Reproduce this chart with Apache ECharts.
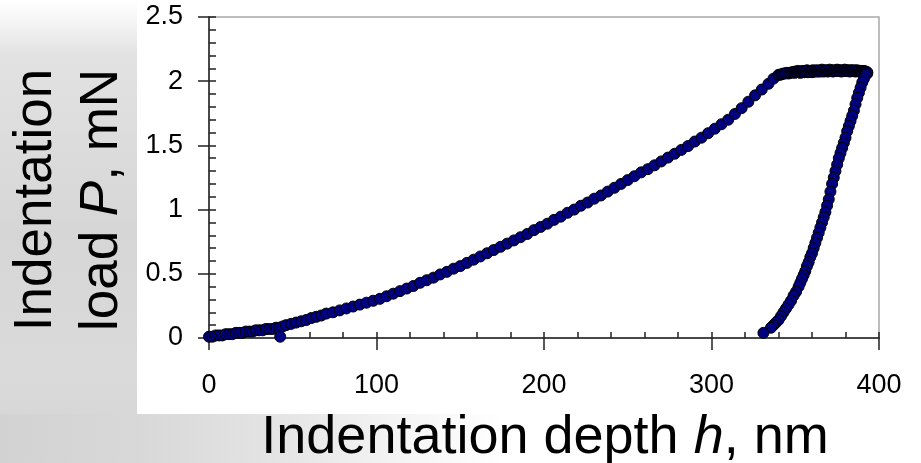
<!DOCTYPE html>
<html>
<head>
<meta charset="utf-8">
<title>Indentation load-depth curve</title>
<script src="https://cdn.jsdelivr.net/npm/echarts@6.0.0/dist/echarts.min.js"></script>
<style>
  html, body { margin: 0; padding: 0; background: #fff; }
  #chart { width: 921px; height: 463px; }
</style>
</head>
<body>
<div id="chart"></div>
<script>
// loading branch (nm, mN)
var loadDepth = [0, 2, 4, 6, 8, 10, 12, 14, 16, 18, 20, 22, 24, 26, 28, 30, 32, 34, 36, 38, 40, 42, 44,
  46, 49, 52, 55, 58, 61, 64, 67, 70, 74, 78, 82, 86, 90, 94, 98, 102, 106, 110, 114, 118, 122, 126,
  130, 134, 138, 142, 146, 150, 154, 158, 162, 166, 170, 174, 178, 182, 186, 190, 194, 198, 202, 206,
  210, 214, 218, 222, 226, 230, 234, 238, 242, 246, 250, 254, 258, 262, 266, 270, 274, 278, 282, 286,
  290, 294, 298, 302, 306, 310, 314, 318, 322, 326, 330, 334, 337, 340];
var loadForce = [0.01, 0.01, 0.02, 0.02, 0.02, 0.03, 0.03, 0.03, 0.04, 0.04, 0.04, 0.05, 0.05, 0.05, 0.06, 0.06, 0.06, 0.07, 0.07, 0.07, 0.08, 0.08, 0.09,
  0.10, 0.11, 0.12, 0.13, 0.14, 0.155, 0.165, 0.175, 0.19, 0.20, 0.215, 0.23, 0.245, 0.26, 0.275, 0.29, 0.305, 0.325, 0.345, 0.365, 0.385, 0.405, 0.43,
  0.45, 0.47, 0.495, 0.515, 0.54, 0.56, 0.585, 0.61, 0.635, 0.66, 0.685, 0.71, 0.735, 0.76, 0.785, 0.81, 0.84, 0.865, 0.89, 0.92,
  0.945, 0.975, 1.00, 1.03, 1.055, 1.085, 1.11, 1.14, 1.17, 1.20, 1.23, 1.26, 1.29, 1.315, 1.345, 1.375, 1.405, 1.435, 1.465, 1.495,
  1.53, 1.56, 1.595, 1.63, 1.665, 1.70, 1.745, 1.79, 1.84, 1.89, 1.935, 1.98, 2.02, 2.05];

// hold at max load (dense, so the band reads almost black)
var holdDepth = [341, 342, 343, 344, 345, 346, 347, 348,
  349, 349.5, 350, 350.5, 351, 351.5, 352, 352.5, 353, 353.5, 354, 354.5, 355, 355.5, 356, 356.5, 357, 357.5,
  358, 358.5, 359, 359.5, 360, 360.5, 361, 361.5, 362, 362.5, 363, 363.5, 364, 364.5, 365, 365.5, 366, 366.5,
  367, 367.5, 368, 368.5, 369, 369.5, 370, 370.5, 371, 371.5, 372, 372.5, 373, 373.5, 374, 374.5, 375, 375.5,
  376, 376.5, 377, 377.5, 378, 378.5, 379, 379.5, 380, 380.5, 381, 381.5, 382, 382.5, 383, 383.5, 384, 384.5,
  385, 385.5, 386, 386.5, 387, 387.5, 388, 388.5, 389, 389.5, 390, 390.5, 391, 391.5, 392, 392.5, 393];
var holdForce = [2.05, 2.055, 2.06, 2.06, 2.065, 2.06, 2.065, 2.07,
  2.07, 2.065, 2.075, 2.07, 2.07, 2.08, 2.07, 2.075, 2.065, 2.075, 2.07, 2.08, 2.075, 2.07, 2.08, 2.075, 2.085, 2.07,
  2.075, 2.08, 2.075, 2.08, 2.07, 2.085, 2.075, 2.08, 2.075, 2.085, 2.08, 2.075, 2.08, 2.085, 2.075, 2.08, 2.09, 2.08,
  2.075, 2.085, 2.08, 2.08, 2.085, 2.075, 2.08, 2.09, 2.08, 2.085, 2.08, 2.075, 2.085, 2.08, 2.08, 2.085, 2.09, 2.08,
  2.085, 2.08, 2.085, 2.075, 2.08, 2.085, 2.08, 2.09, 2.08, 2.085, 2.08, 2.085, 2.08, 2.075, 2.085, 2.08, 2.085, 2.08,
  2.08, 2.085, 2.075, 2.08, 2.085, 2.08, 2.08, 2.075, 2.08, 2.08, 2.075, 2.08, 2.08, 2.075, 2.075, 2.07, 2.07];

// unloading branch
var unloadDepth = [393, 392, 391, 390, 389, 388, 387, 386, 385, 384, 383, 382, 381, 380, 379, 378, 377, 376, 375,
  374, 373, 372, 371, 370, 369, 368, 367, 366, 365, 364, 363, 362, 361, 360, 359, 358, 357, 356, 355, 354, 353,
  352, 350.5, 349, 347.5, 346, 344.5, 343, 341.5, 340, 338.5, 337, 335.5, 331];
var unloadForce = [2.06, 2.05, 2.02, 1.99, 1.95, 1.91, 1.87, 1.82, 1.77, 1.73, 1.69, 1.65, 1.61, 1.56, 1.52, 1.48, 1.44, 1.40, 1.35,
  1.30, 1.25, 1.20, 1.14, 1.08, 1.03, 0.98, 0.94, 0.90, 0.86, 0.82, 0.78, 0.74, 0.70, 0.66, 0.63, 0.59, 0.56, 0.52, 0.49, 0.46, 0.43,
  0.40, 0.36, 0.33, 0.29, 0.26, 0.23, 0.20, 0.17, 0.14, 0.12, 0.10, 0.08, 0.04];

// single stray point near the start
var strayDepth = [42.5];
var strayForce = [0.01];

var xTicks = [0, 400, 100];   // min, max, step
var yTicks = [0, 2.5, 0.5];

function pairs(xs, ys) {
  return xs.map(function (x, i) { return [x, ys[i]]; });
}

var chart = echarts.init(document.getElementById('chart'), null, { renderer: 'canvas' });

var tickFont = { fontSize: 27, fontFamily: 'Liberation Sans, Arial, sans-serif', color: '#000' };
var dotStyle = { color: '#000080', borderColor: '#000', borderWidth: 1, opacity: 1 };

function dots(name, xs, ys) {
  return {
    name: name,
    type: 'scatter',
    xAxisIndex: 0,
    yAxisIndex: 0,
    symbol: 'circle',
    symbolSize: 11,
    itemStyle: dotStyle,
    emphasis: { disabled: true },
    data: pairs(xs, ys)
  };
}

var option = {
  backgroundColor: '#fff',
  animation: false,
  grid: {
    left: 209, right: 42, top: 17, bottom: 125,
    show: true, borderColor: '#a8a8a8', borderWidth: 1.5,
    backgroundColor: 'transparent',
    outerBoundsMode: 'none'
  },
  graphic: [
    {  // grey backdrop on the left
      type: 'rect', z: 0, silent: true,
      shape: { x: 0, y: 0, width: 137, height: 463 },
      style: {
        fill: { type: 'linear', x: 0, y: 0, x2: 0, y2: 1, colorStops: [
          { offset: 0, color: '#ffffff' }, { offset: 0.05, color: '#f4f4f4' },
          { offset: 0.12, color: '#e2e2e2' }, { offset: 0.5, color: '#d6d6d6' },
          { offset: 0.8, color: '#dadada' }, { offset: 1, color: '#d4d4d4' }] }
      }
    },
    {  // grey backdrop under the plot
      type: 'rect', z: 0, silent: true,
      shape: { x: 0, y: 414, width: 921, height: 49 },
      style: {
        fill: { type: 'linear', x: 0, y: 0, x2: 1, y2: 0, colorStops: [
          { offset: 0, color: '#d2d2d2' }, { offset: 0.15, color: '#d8d8d8' },
          { offset: 0.3, color: '#e4e4e4' }, { offset: 0.45, color: '#f6f6f6' },
          { offset: 0.55, color: '#ffffff' }, { offset: 1, color: '#ffffff' }] }
      }
    },
    {
      type: 'text', z: 10, x: 36, y: 200, rotation: Math.PI / 2,
      style: {
        text: 'Indentation', fontSize: 53, fontFamily: 'Liberation Sans, Arial, sans-serif',
        fill: '#000', align: 'center', verticalAlign: 'middle'
      }
    },
    {
      type: 'text', z: 10, x: 102, y: 200, rotation: Math.PI / 2,
      style: {
        text: '{n|load }{i|P}{n|, mN}', fontSize: 53, fontFamily: 'Liberation Sans, Arial, sans-serif',
        fill: '#000', align: 'center', verticalAlign: 'middle',
        rich: {
          n: { fontSize: 53, fontFamily: 'Liberation Sans, Arial, sans-serif', fill: '#000' },
          i: { fontSize: 53, fontFamily: 'Liberation Sans, Arial, sans-serif', fill: '#000', fontStyle: 'italic' }
        }
      }
    },
    {
      type: 'text', z: 10, x: 545, y: 438,
      style: {
        text: '{n|Indentation depth }{i|h}{n|, nm}', fontSize: 54, fontFamily: 'Liberation Sans, Arial, sans-serif',
        fill: '#000', align: 'center', verticalAlign: 'middle',
        rich: {
          n: { fontSize: 54, fontFamily: 'Liberation Sans, Arial, sans-serif', fill: '#000' },
          i: { fontSize: 54, fontFamily: 'Liberation Sans, Arial, sans-serif', fill: '#000', fontStyle: 'italic' }
        }
      }
    }
  ],
  xAxis: [
    {
      type: 'value', position: 'bottom', min: xTicks[0], max: xTicks[1], interval: xTicks[2],
      axisLine: { show: true, onZero: false, lineStyle: { color: '#222', width: 1.5 } },
      axisTick: { show: true, inside: false, length: 12, lineStyle: { color: '#222', width: 1.5 } },
      axisLabel: Object.assign({ margin: 34 }, tickFont),
      splitLine: { show: false }
    },
    {
      type: 'value', position: 'bottom', min: xTicks[0], max: xTicks[1], interval: xTicks[2],
      axisLine: { show: false, onZero: false },
      axisTick: { show: true, inside: true, length: 6, lineStyle: { color: '#222', width: 1.5 } },
      minorTick: { show: true, splitNumber: 5, length: 6, lineStyle: { color: '#222', width: 1.5 } },
      axisLabel: { show: false },
      splitLine: { show: false }
    }
  ],
  yAxis: [
    {
      type: 'value', position: 'left', min: yTicks[0], max: yTicks[1], interval: yTicks[2],
      axisLine: { show: true, onZero: false, lineStyle: { color: '#222', width: 1.5 } },
      axisTick: { show: true, inside: false, length: 11, lineStyle: { color: '#222', width: 1.5 } },
      axisLabel: Object.assign({ margin: 26 }, tickFont),
      splitLine: { show: false }
    },
    {
      type: 'value', position: 'left', min: yTicks[0], max: yTicks[1], interval: yTicks[2],
      axisLine: { show: false, onZero: false },
      axisTick: { show: true, inside: true, length: 7, lineStyle: { color: '#222', width: 1.5 } },
      minorTick: { show: true, splitNumber: 5, length: 7, lineStyle: { color: '#222', width: 1.5 } },
      axisLabel: { show: false },
      splitLine: { show: false }
    }
  ],
  series: [
    dots('loading', loadDepth, loadForce),
    dots('hold', holdDepth, holdForce),
    dots('unloading', unloadDepth, unloadForce),
    dots('stray', strayDepth, strayForce)
  ]
};

chart.setOption(option);
</script>
</body>
</html>
